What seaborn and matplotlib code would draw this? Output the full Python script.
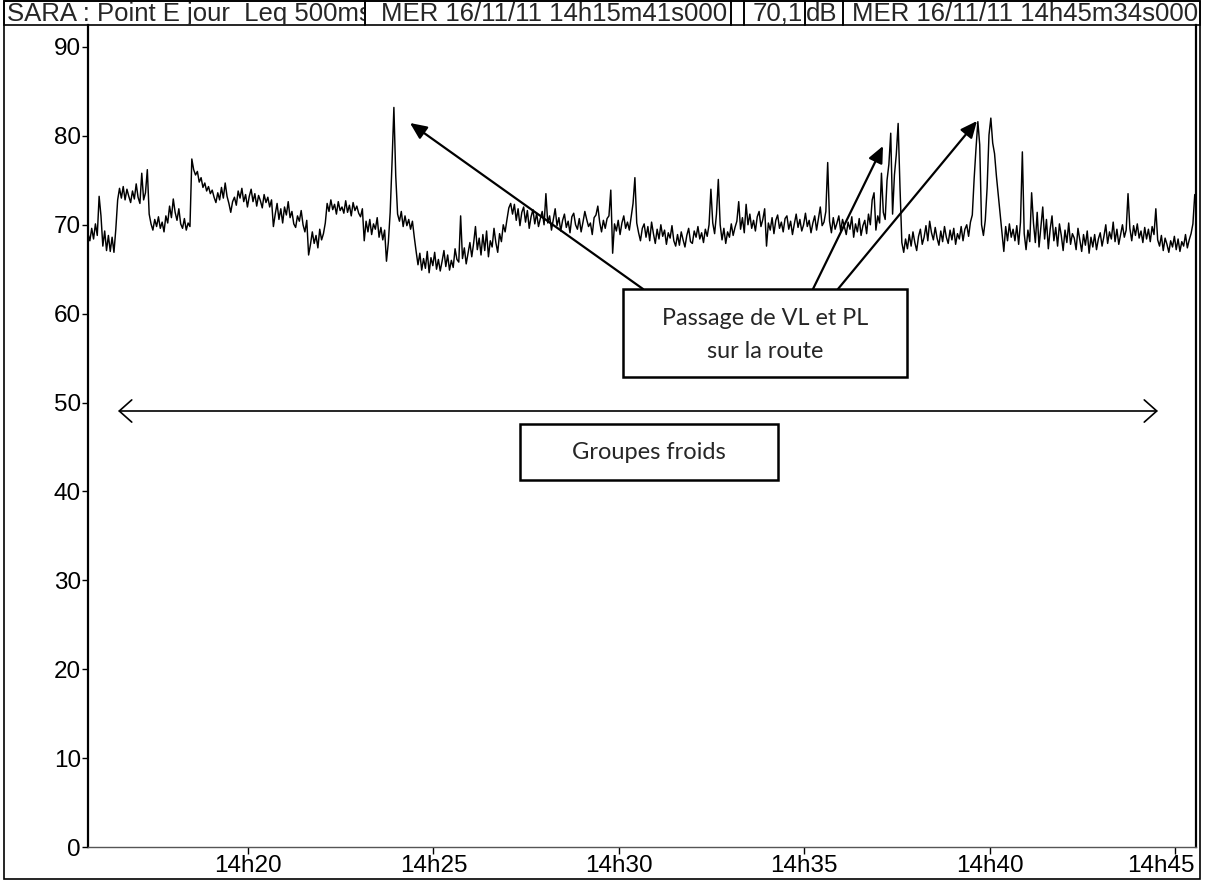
import matplotlib
matplotlib.use("Agg")
import numpy as np
import pandas as pd
import matplotlib.pyplot as plt
import matplotlib.dates as mdates
from matplotlib.patches import Rectangle, FancyArrowPatch
from matplotlib.transforms import Bbox, TransformedBbox, ScaledTranslation
import seaborn as sns

# Leq 500 ms level (dB), one reading every 3 s, in 5-minute blocks from 14h15m41s
leq_block_1 = [69.0, 68.2, 69.6, 68.4, 70.1, 68.8, 73.2, 71.0, 67.6, 69.3,
               67.1, 68.8, 67.0, 68.6, 66.9, 69.5, 72.8, 74.1, 73.0, 74.3,
               72.8, 74.0, 73.2, 72.5, 73.8, 72.9, 74.6, 73.1, 72.4, 75.8,
               72.8, 73.6, 76.2, 71.2, 70.1, 69.4, 70.6, 69.8, 70.9, 69.6,
               70.3, 69.2, 71.0, 70.2, 72.1, 70.8, 72.9, 71.4, 70.5, 71.8,
               70.1, 69.6, 70.7, 69.4, 70.2, 69.8, 77.4, 76.2, 75.6, 76.0,
               74.8, 75.3, 74.2, 74.7, 73.8, 74.3, 73.5, 73.9, 73.1, 72.5,
               73.6, 72.8, 74.2, 73.0, 74.7, 73.2, 72.4, 71.4, 72.6, 73.1,
               72.2, 73.8, 73.0, 74.1, 72.6, 73.4, 72.0, 73.2, 74.0, 72.6,
               73.5, 72.1, 73.3, 72.7, 71.9, 73.4, 72.5, 73.1, 72.0, 72.8]
leq_block_2 = [69.8, 71.2, 72.4, 70.6, 71.8, 70.2, 72.0, 71.1, 72.6, 70.8,
               71.5, 70.1, 69.7, 71.0, 70.4, 71.6, 70.0, 69.2, 70.5, 66.6,
               67.8, 69.2, 67.9, 68.8, 67.4, 69.5, 68.3, 69.0, 70.2, 72.4,
               71.5, 72.8, 71.7, 72.3, 71.2, 72.6, 71.6, 72.0, 71.3, 72.7,
               71.4, 72.2, 71.0, 72.5, 71.6, 72.1, 71.3, 70.9, 71.8, 68.2,
               70.4, 69.2, 70.6, 68.9, 70.1, 69.5, 70.8, 68.6, 69.7, 68.3,
               69.4, 65.9, 68.0, 71.4, 77.0, 83.2, 75.5, 71.2, 70.4, 71.5,
               69.8, 71.0, 69.9, 70.6, 69.5, 70.4, 68.6, 67.0, 65.5, 66.8,
               64.9, 66.2, 65.1, 67.0, 64.6, 66.3, 65.4, 66.9, 65.0, 66.1,
               64.8, 65.9, 67.1, 65.3, 66.6, 64.9, 66.0, 65.2, 67.3, 66.1]
leq_block_3 = [65.8, 71.0, 66.2, 67.4, 65.6, 66.8, 68.0, 66.4, 67.9, 69.8,
               67.2, 68.5, 66.6, 68.9, 67.1, 69.3, 66.4, 68.2, 67.5, 69.6,
               68.0, 66.9, 69.0, 68.1, 70.0, 69.2, 70.6, 71.9, 72.4, 71.2,
               72.3, 70.5, 71.8, 69.9, 71.4, 72.0, 70.3, 71.6, 69.6, 70.9,
               71.7, 70.1, 71.3, 69.8, 70.7, 71.5, 70.0, 73.5, 70.2, 71.0,
               69.4, 70.6, 71.8, 69.9, 70.8, 69.3, 70.5, 71.2, 69.7, 70.4,
               69.1, 70.9, 71.3, 70.0, 69.5, 70.7, 69.2, 70.3, 71.5, 70.6,
               69.8, 70.2, 68.9, 70.8, 71.1, 72.1, 70.3, 69.2, 70.5, 69.6,
               70.7, 71.0, 73.9, 66.8, 70.1, 69.3, 70.5, 68.9, 70.2, 71.0,
               69.6, 70.3, 69.4, 70.9, 72.4, 75.3, 70.2, 69.1, 68.2, 69.6]
leq_block_4 = [70.1, 68.6, 69.8, 68.2, 70.3, 69.0, 67.9, 69.5, 68.4, 70.0,
               68.7, 69.4, 67.8, 69.1, 68.5, 69.9, 68.2, 67.6, 68.9, 67.7,
               69.2, 68.3, 67.5, 68.8, 69.6, 68.1, 67.9, 69.3, 68.6, 69.8,
               68.4, 69.1, 68.0, 69.5, 68.7, 70.0, 74.0, 70.2, 69.0, 71.2,
               75.1, 70.0, 68.3, 69.6, 67.9, 69.2, 68.6, 70.1, 68.8, 69.7,
               70.4, 72.6, 69.5, 70.8, 69.1, 72.3, 70.0, 71.2, 69.6, 70.5,
               69.3, 70.9, 71.5, 69.8, 70.6, 71.8, 67.6, 70.2, 69.4, 70.8,
               69.0, 70.5, 71.1, 69.6, 70.3, 69.2, 70.7, 71.0, 69.5, 70.4,
               68.9, 70.1, 71.2, 69.7, 70.6, 69.3, 70.0, 71.3, 69.8, 70.5,
               69.1, 70.2, 71.0, 69.4, 70.7, 72.0, 69.9, 70.3, 71.5, 77.0]
leq_block_5 = [70.4, 69.1, 70.8, 69.5, 70.2, 71.0, 69.3, 70.6, 69.8, 68.9,
               70.3, 69.5, 70.9, 68.6, 70.1, 69.2, 70.7, 68.8, 69.9, 70.5,
               69.0, 71.2, 70.0, 72.8, 73.6, 69.4, 71.0, 70.2, 75.8, 71.4,
               70.6, 75.0, 76.8, 80.3, 71.2, 75.6, 77.9, 81.4, 74.2, 68.0,
               66.9, 68.4, 67.3, 68.9, 67.6, 69.2, 68.0, 67.1, 68.7, 69.5,
               67.8, 68.6, 69.9, 68.2, 70.4, 69.1, 68.3, 69.7, 68.5, 67.7,
               69.3, 68.1, 69.8, 68.6, 67.9, 69.4, 68.3, 69.6, 67.8, 69.0,
               68.4, 69.8, 68.2, 69.5, 70.0, 68.7, 70.3, 71.1, 75.2, 78.6,
               81.6, 79.0, 70.0, 68.8, 70.5, 74.2, 80.1, 82.0, 79.2, 78.0,
               75.5, 73.4, 71.2, 69.3, 67.0, 69.8, 68.2, 70.1, 68.6, 69.5]
leq_block_6 = [68.2, 69.9, 67.8, 70.3, 78.2, 69.0, 67.2, 69.4, 68.1, 73.6,
               70.2, 68.0, 71.4, 67.5, 69.8, 72.0, 68.4, 70.6, 67.3, 69.5,
               71.0, 68.2, 69.7, 67.6, 70.1, 68.8, 67.1, 69.4, 68.0, 70.2,
               67.8, 69.0, 68.5, 67.2, 69.6, 68.3, 67.0, 68.9, 67.7, 69.3,
               66.8, 68.6, 67.5, 68.9, 67.2, 68.4, 69.1, 67.6, 68.7, 70.0,
               67.9, 69.2, 68.4, 70.3, 68.1, 69.5, 67.8, 68.9, 70.0, 68.6,
               69.4, 73.5, 69.6, 68.2, 69.9, 68.8, 70.1, 68.5, 69.3, 68.0,
               69.7, 68.4, 69.5, 68.1, 69.8, 68.9, 71.8, 68.3, 67.6, 68.8,
               67.1, 68.5, 67.8, 66.9, 68.2, 67.5, 68.7, 67.2, 68.4, 67.0,
               68.1, 67.6, 68.9, 67.4, 68.3, 69.0, 70.1, 73.4]

start_time = "2011-11-16 14:15:41"
end_time = "2011-11-16 14:45:34"
step_seconds = 3

y_ticks = [0, 10, 20, 30, 40, 50, 60, 70, 80, 90]
x_tick_times = ["14:20", "14:25", "14:30", "14:35", "14:40", "14:45"]

header_texts = ["SARA : Point E jour  Leq 500ms", "MER 16/11/11 14h15m41s000",
                "", "70,1", "dB", "MER 16/11/11 14h45m34s000"]
traffic_label = "Passage de VL et PL\nsur la route"
chillers_label = "Groupes froids"

# ---------------------------------------------------------------------------
W, H = 1205, 882
sns.set_style("ticks")
plt.rcParams["font.family"] = ["Liberation Sans", "DejaVu Sans"]

fig = plt.figure(figsize=(W / 100, H / 100), dpi=100)
fig.patch.set_facecolor("white")


def fx(x):
    return x / W


def fy(y):
    return 1 - y / H


leq = leq_block_1 + leq_block_2 + leq_block_3 + leq_block_4 + leq_block_5 + leq_block_6
times = pd.date_range(start_time, periods=len(leq), freq=f"{step_seconds}s")
df = pd.DataFrame({"time": times, "leq": leq})

# plot area (pixel layout)
ax_left, ax_right, ax_top, ax_bottom = 88, 1196, 25, 847
px_per_db = 8.889
ax = fig.add_axes([fx(ax_left), fy(ax_bottom), (ax_right - ax_left) / W,
                   (ax_bottom - ax_top) / H])
sns.lineplot(data=df, x="time", y="leq", ax=ax, color="black", linewidth=1.05)

ax.set_xlim(pd.Timestamp(start_time), pd.Timestamp(end_time))
ax.set_ylim(0, (ax_bottom - ax_top) / px_per_db)
ax.set_yticks(y_ticks)
ax.set_xticks([pd.Timestamp("2011-11-16 " + t) for t in x_tick_times])
ax.xaxis.set_major_formatter(mdates.DateFormatter("%Hh%M"))
ax.set_xlabel("")
ax.set_ylabel("")
tick_size = 17.5
ax.tick_params(axis="y", direction="out", length=4, width=1, pad=1,
               labelsize=tick_size, colors="black")
ax.tick_params(axis="x", direction="out", length=5, width=1, pad=1,
               labelsize=tick_size, colors="black")
for side in ["left", "right"]:
    ax.spines[side].set_linewidth(1.6)
    ax.spines[side].set_color("black")
ax.spines["bottom"].set_color("#555555")
ax.spines["bottom"].set_linewidth(1.0)
ax.spines["top"].set_visible(False)
ax.set_facecolor("white")

last = ax.get_xticklabels()[-1]
last.set_transform(last.get_transform() + ScaledTranslation(-0.14, 0, fig.dpi_scale_trans))

# outer frame
fig.patches.append(Rectangle((fx(4), fy(879)), fx(1200) - fx(4), fy(1) - fy(879),
                             transform=fig.transFigure, fill=False,
                             edgecolor="black", linewidth=1.2))

# header row of cells
cells = [(4, 365), (365, 731), (731, 744), (744, 805), (805, 843), (843, 1200)]
hdr_top, hdr_bot = 1, 25
hdr_size = 18.5
for (x0, x1), txt in zip(cells, header_texts):
    fig.patches.append(Rectangle((fx(x0), fy(hdr_bot)), fx(x1) - fx(x0),
                                 fy(hdr_top) - fy(hdr_bot), transform=fig.transFigure,
                                 fill=False, edgecolor="black", linewidth=1.2))
hy = fy(14)
t0 = fig.text(fx(7), hy, header_texts[0], ha="left", va="center", fontsize=hdr_size)
t0.set_clip_box(TransformedBbox(Bbox([[fx(4), 0], [fx(364), 1]]), fig.transFigure))
t0.set_clip_on(True)
fig.text(fx(727), hy, header_texts[1], ha="right", va="center", fontsize=hdr_size)
fig.text(fx(803), hy, header_texts[3], ha="right", va="center", fontsize=hdr_size)
fig.text(fx(806), hy, header_texts[4], ha="left", va="center", fontsize=hdr_size)
fig.text(fx(1198), hy, header_texts[5], ha="right", va="center", fontsize=hdr_size)

# annotation boxes
note_font = ["Lato", "DejaVu Sans"]
fig.patches.append(Rectangle((fx(623), fy(377)), fx(907) - fx(623), fy(289) - fy(377),
                             transform=fig.transFigure, facecolor="white",
                             edgecolor="black", linewidth=1.8, zorder=5))
fig.text(fx(765), fy(335), traffic_label, ha="center", va="center", fontsize=16.8,
         family=note_font, linespacing=1.75, zorder=6)
fig.patches.append(Rectangle((fx(520), fy(480)), fx(778) - fx(520), fy(424) - fy(480),
                             transform=fig.transFigure, facecolor="white",
                             edgecolor="black", linewidth=1.8, zorder=5))
fig.text(fx(649), fy(452), chillers_label, ha="center", va="center", fontsize=17,
         family=note_font, zorder=6)

# arrows towards the traffic peaks
for tail, tip in [((643, 289), (410, 123)), ((813, 289), (883, 146)),
                  ((838, 289), (977, 121))]:
    fig.patches.append(FancyArrowPatch((fx(tail[0]), fy(tail[1])), (fx(tip[0]), fy(tip[1])),
                                       transform=fig.transFigure,
                                       arrowstyle="-|>,head_length=1.0,head_width=0.45",
                                       mutation_scale=10, color="black", linewidth=1.6,
                                       shrinkA=0, shrinkB=0, zorder=4))

# span of the chiller noise
fig.patches.append(FancyArrowPatch((fx(118), fy(411)), (fx(1158), fy(411)),
                                   transform=fig.transFigure,
                                   arrowstyle="<->,head_length=0.9,head_width=0.8",
                                   mutation_scale=10, color="black", linewidth=1.2,
                                   shrinkA=0, shrinkB=0, zorder=4))

fig.savefig("out.png", dpi=100, facecolor="white")
